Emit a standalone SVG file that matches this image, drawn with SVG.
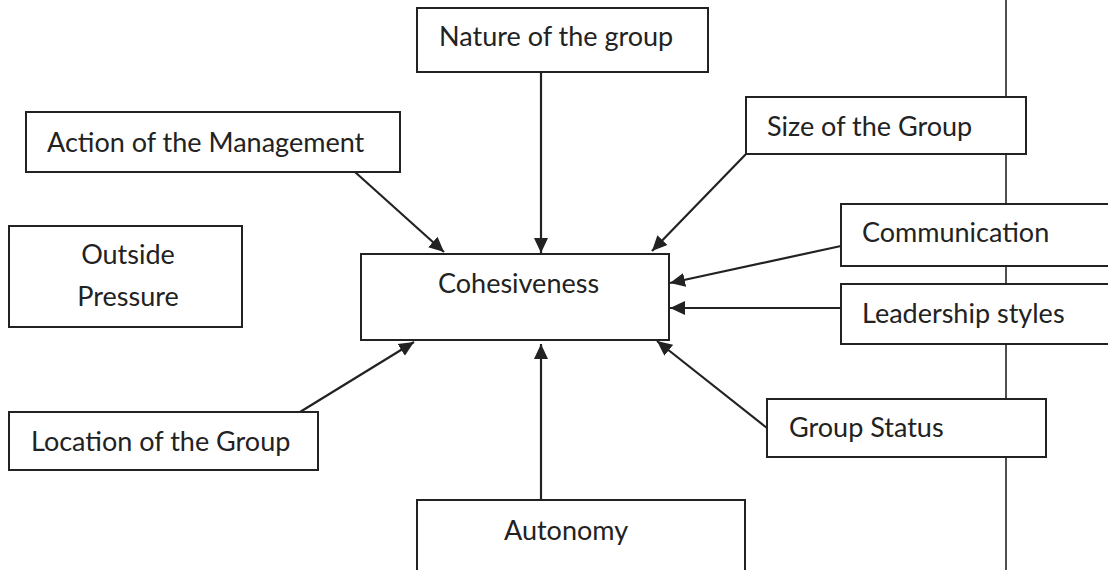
<svg xmlns="http://www.w3.org/2000/svg" width="1108" height="570" viewBox="0 0 1108 570">
<defs>
<style>
.box{fill:#fff;stroke:#222;stroke-width:2}
.lbl{font-family:Lato,"Open Sans","Liberation Sans",sans-serif;font-size:27px;fill:#222}
.con{stroke:#222;stroke-width:2.2;fill:none}
.axis{stroke:#222;stroke-width:1.6}
</style>
<marker id="ah" markerUnits="userSpaceOnUse" markerWidth="16" markerHeight="16" viewBox="0 0 16 16" refX="15" refY="8" orient="auto">
<path d="M0,1 L15,8 L0,15 Z" fill="#222"/>
</marker>
</defs>
<rect width="1108" height="570" fill="#fff"/>
<line class="axis" x1="1006" y1="0" x2="1006" y2="570"/>
<g id="connectors">
<line class="con" x1="541" y1="72" x2="541" y2="253" marker-end="url(#ah)"/>
<line class="con" x1="355" y1="172" x2="444" y2="252" marker-end="url(#ah)"/>
<line class="con" x1="746" y1="154" x2="652" y2="251" marker-end="url(#ah)"/>
<line class="con" x1="841" y1="246" x2="670" y2="283" marker-end="url(#ah)"/>
<line class="con" x1="841" y1="308" x2="670" y2="308" marker-end="url(#ah)"/>
<line class="con" x1="767" y1="428" x2="657" y2="341" marker-end="url(#ah)"/>
<line class="con" x1="541" y1="500" x2="541" y2="344" marker-end="url(#ah)"/>
<line class="con" x1="300" y1="412" x2="414" y2="342" marker-end="url(#ah)"/>
</g>
<g id="nature"><rect class="box" x="417" y="8" width="291" height="64"/><text class="lbl" x="439" y="46">Nature of the group</text></g>
<g id="action"><rect class="box" x="26" y="112" width="374" height="60"/><text class="lbl" x="47" y="152">Action of the Management</text></g>
<g id="size"><rect class="box" x="746" y="97" width="280" height="57"/><text class="lbl" x="767" y="136">Size of the Group</text></g>
<g id="outside"><rect class="box" x="9" y="226" width="233" height="101"/><text class="lbl" x="128" y="264" text-anchor="middle">Outside</text><text class="lbl" x="128" y="306" text-anchor="middle">Pressure</text></g>
<g id="cohesiveness"><rect class="box" x="361" y="254" width="308" height="86"/><text class="lbl" x="438" y="293">Cohesiveness</text></g>
<g id="communication"><rect class="box" x="841" y="204" width="280" height="62"/><text class="lbl" x="862" y="242">Communication</text></g>
<g id="leadership"><rect class="box" x="841" y="284" width="280" height="60"/><text class="lbl" x="862" y="323">Leadership styles</text></g>
<g id="location"><rect class="box" x="9" y="412" width="309" height="58"/><text class="lbl" x="31" y="451">Location of the Group</text></g>
<g id="status"><rect class="box" x="767" y="399" width="279" height="58"/><text class="lbl" x="789" y="437">Group Status</text></g>
<g id="autonomy"><rect class="box" x="417" y="500" width="328" height="90"/><text class="lbl" x="504" y="540">Autonomy</text></g>
</svg>
